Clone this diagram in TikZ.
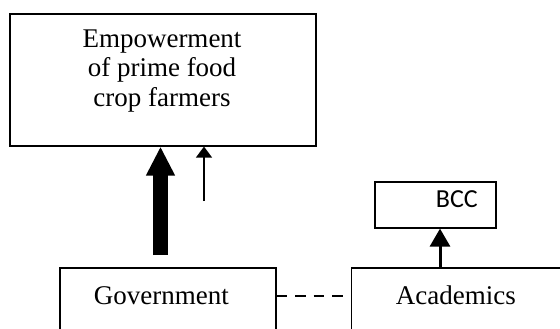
\documentclass[tikz,border=0pt]{standalone}
\usepackage{fontspec}
\setmainfont{Liberation Serif}
\newfontfamily\bccfont{Carlito}
\usetikzlibrary{arrows.meta}
\tikzset{
  box/.style={draw, line width=1.6pt, inner ysep=0pt},
  bigtext/.style={font=\fontsize{27}{29.5}\selectfont},
}
\begin{document}
\begin{tikzpicture}[x=1pt, y=-1pt]
\useasboundingbox (0,0) rectangle (560,329);
\clip (0,0) rectangle (560,329);
% top box
\node[box, minimum width=306pt, minimum height=132pt, anchor=north west] (emp) at (9,13) {};
\node[bigtext, align=center] (empt) at (162,71) {Empowerment\\of prime food\\crop farmers};
% government
\node[box, bigtext, anchor=north west, inner xsep=34pt, text width=148pt, align=left,
      text height=37pt, text depth=50pt] (gov) at (59,267) {Government};
% academics
\node[box, bigtext, anchor=north west, inner xsep=44.5pt, text width=250pt, align=left,
      text height=37pt, text depth=50pt] (acad) at (350.5,267) {Academics};
% BCC
\node[box, font=\bccfont\fontsize{26}{28}\selectfont, anchor=north west, inner xsep=18pt,
      text width=85pt, align=right, text height=26pt, text depth=20pt] (bcc) at (374,181) {BCC};
% arrows
\coordinate (bigtail) at (160.5,255);
\coordinate (thintail) at (204,201);
\draw[line width=15pt, -{Triangle[width=27pt,length=29pt]}] (bigtail) -- (emp.south -| bigtail);
\draw[line width=1.5pt, -{Triangle[width=16pt,length=11pt]}] (thintail) -- (emp.south -| thintail);
\coordinate (acadtop) at (440,267);
\draw[line width=3pt, -{Triangle[width=20pt,length=18pt]}] (acadtop) -- (bcc.south -| acadtop);
% dashed link
\draw[line width=2pt, dash pattern=on 10.5pt off 8pt] ([yshift=-28.5pt]gov.north east) -- ([yshift=-28.5pt]acad.north west);
\end{tikzpicture}
\end{document}
